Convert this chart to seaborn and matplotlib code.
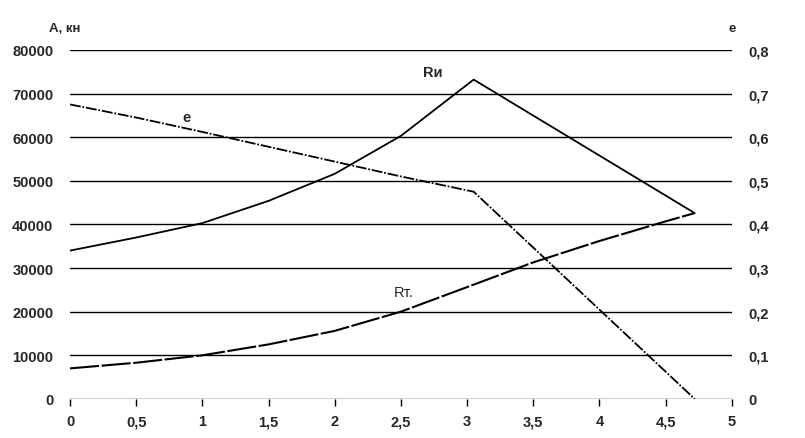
import numpy as np
import pandas as pd
import seaborn as sns
import matplotlib.pyplot as plt

# values
x_ru = [0, 0.5, 1, 1.5, 2, 2.5, 3.05, 4.72]
ru = [34000, 37000, 40300, 45400, 51600, 60300, 73200, 42600]

x_rt = [0, 0.5, 1, 1.5, 2, 2.5, 3.05, 3.5, 4, 4.5, 4.72]
rt = [7000, 8300, 10000, 12500, 15600, 20000, 26200, 31300, 36200, 40700, 42600]

x_e = [0, 0.5, 1, 1.5, 2, 2.5, 3.05, 4.72]
e = [0.675, 0.645, 0.612, 0.578, 0.544, 0.51, 0.475, 0.0]

x_ticks = [0, 0.5, 1, 1.5, 2, 2.5, 3, 3.5, 4, 4.5, 5]
left_ticks = [0, 10000, 20000, 30000, 40000, 50000, 60000, 70000, 80000]
right_ticks = [0, 0.1, 0.2, 0.3, 0.4, 0.5, 0.6, 0.7, 0.8]

df_ru = pd.DataFrame({'x': x_ru, 'y': ru})
df_rt = pd.DataFrame({'x': x_rt, 'y': rt})
df_e = pd.DataFrame({'x': x_e, 'y': e})

sns.set_style('white')
plt.rcParams['font.family'] = ['Liberation Sans', 'DejaVu Sans']
FS = 10.5

fig = plt.figure(figsize=(8.05, 4.39), dpi=100)
ax = fig.add_axes([0.087, 0.089, 0.822, 0.795])
ax2 = ax.twinx()

for val in left_ticks:
    ax.axhline(val, color='black', lw=1.0, zorder=1)

sns.lineplot(data=df_ru, x='x', y='y', ax=ax, color='black', lw=1.3)
sns.lineplot(data=df_rt, x='x', y='y', ax=ax, color='black', lw=1.5)
ax.lines[-1].set_dashes([14, 1.2])
sns.lineplot(data=df_e, x='x', y='y', ax=ax2, color='black', lw=1.3)
ax2.lines[-1].set_dashes([6, 1, 1, 1])

ax.set_xlim(0, 5)
ax.set_ylim(0, 80000)
ax2.set_ylim(0, 0.8)

fmt = lambda v: ('%g' % v).replace('.', ',')
ax.set_xticks(x_ticks)
ax.set_xticklabels([fmt(v) for v in x_ticks], fontsize=FS, fontweight='bold')
ax.set_yticks(left_ticks)
ax.set_yticklabels([str(v) for v in left_ticks], fontsize=FS, fontweight='bold')
ax2.set_yticks(right_ticks)
ax2.set_yticklabels([fmt(v) for v in right_ticks], fontsize=FS, fontweight='bold')

ax.tick_params(axis='x', direction='out', length=5, width=1, color='black', pad=6, bottom=True)
ax.tick_params(axis='y', length=0, pad=12)
ax2.tick_params(axis='y', length=0, pad=12)

ax.set_xlabel('')
ax.set_ylabel('')
ax2.set_ylabel('')
for a in (ax, ax2):
    for s in a.spines.values():
        s.set_visible(False)

ax.text(-0.032, 1.045, 'А, кн', transform=ax.transAxes, fontsize=FS - 1,
        fontweight='bold', ha='left', va='bottom')
ax2.text(1.0, 1.045, 'е', transform=ax.transAxes, fontsize=FS - 1,
         fontweight='bold', ha='center', va='bottom')
ax.text(2.74, 75000, 'Rи', fontsize=FS, fontweight='bold', ha='center', va='center')
ax.text(0.88, 64600, 'е', fontsize=FS, fontweight='bold', ha='center', va='center')
ax.text(2.52, 24500, 'Rт.', fontsize=FS, ha='center', va='center')

fig.savefig('out.png', dpi=100)
